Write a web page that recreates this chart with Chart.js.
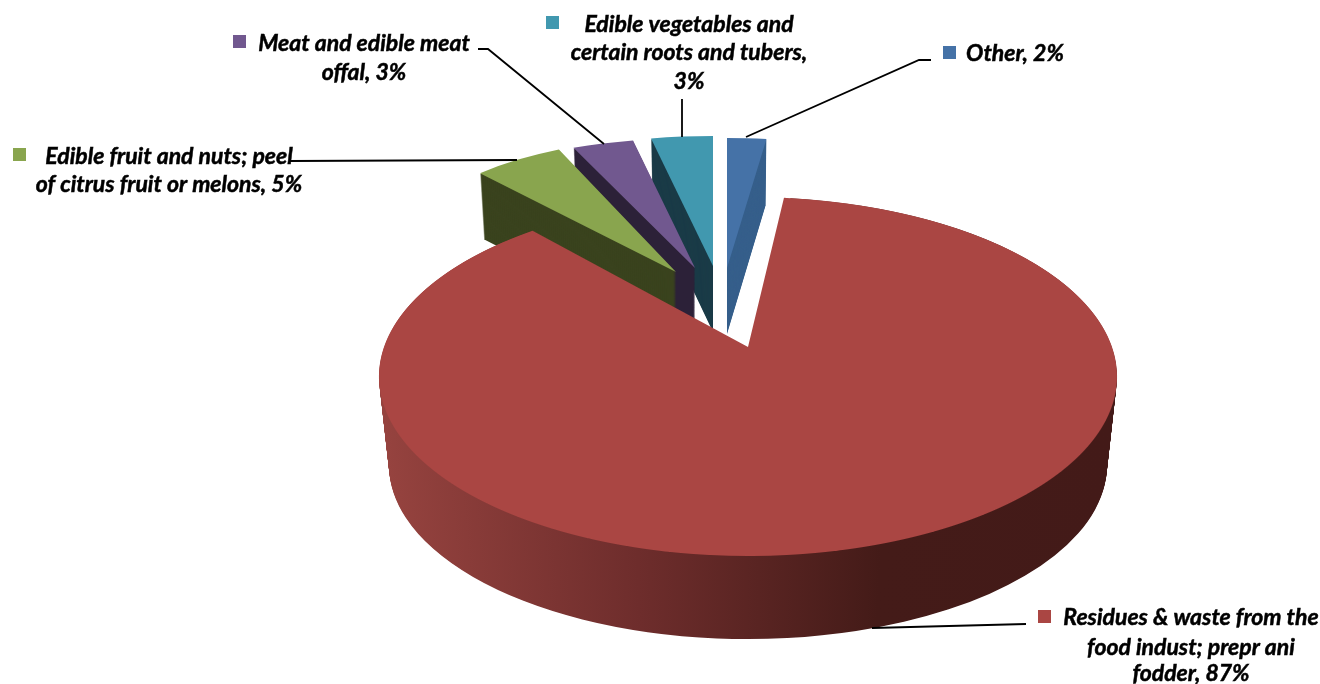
<!DOCTYPE html>
<html>
<head>
<meta charset="utf-8">
<title>Exports by product group</title>
<style>
  html, body { margin: 0; padding: 0; background: #fff; }
  canvas { display: block; }
</style>
<script src="https://cdn.jsdelivr.net/npm/chart.js@4"></script>
</head>
<body>
<canvas id="pie3d" width="1320" height="684"></canvas>
<script>
// Chart data (the labels show these rounded)
const categories = [
  'Residues & waste from the food indust; prepr ani fodder',
  'Edible fruit and nuts; peel of citrus fruit or melons',
  'Meat and edible meat offal',
  'Edible vegetables and certain roots and tubers',
  'Other'
];
const shares = [86.6, 5.2, 3.1, 3.1, 2.0];
const sliceColors = ['#AA4643', '#89A54E', '#71588F', '#4198AF', '#4572A7'];
const wallColors = ['#6e2d2c', '#3a431e', '#2c2138', '#1a3b47', '#365f8b'];

// Label text, one entry per line, same order as the categories
const labelLines = [
  ['Residues & waste from the', 'food indust; prepr ani', 'fodder, 87%'],
  ['Edible fruit and nuts; peel', 'of citrus fruit or melons, 5%'],
  ['Meat and edible meat', 'offal, 3%'],
  ['Edible vegetables and', 'certain roots and tubers,', '3%'],
  ['Other, 2%']
];

// Layout of the labels: centre x of the text, y of each line, legend square
const labelLayout = [
  { cx: 1191, ys: [618, 648, 674], key: [1038, 610] },
  { cx: 169, ys: [157, 185], key: [13, 148] },
  { cx: 364, ys: [44, 73], key: [233, 35] },
  { cx: 689, ys: [25, 53, 82], key: [546, 16] },
  { cx: 1015, ys: [54], key: [943, 46] }
];
const leaderLines = [
  [[872, 628], [1026, 624]],
  [[290, 161], [517, 160]],
  [[478, 49], [488, 49], [604, 144]],
  [[682, 99], [682, 137]],
  [[746, 137], [919, 60], [931, 60]]
];

// Pulled out slices: where the tip lands, ellipse radii, wall height, extra turn in degrees
const R = 369;
const mainRotation = 6.6;
const smallSlices = {
  1: { tip: [676, 272], rx: 290, ry: 134, depth: 66, turn: -1.5 },
  2: { tip: [695, 268], rx: 320, ry: 130, depth: 66, turn: 0 },
  3: { tip: [713, 266], rx: 320, ry: 130, depth: 66, turn: 0 },
  4: { tip: [727, 268], rx: 315, ry: 130, depth: 66, turn: 0 }
};
// the small slices line up with the vertical at 7.2 degrees, not at mainRotation
const smallTurn = 7.2 - mainRotation;

// The big slice is seen in perspective, so its tip is not the ellipse centre
const mainTip = [748, 347];
const backDy = 150, frontDy = 209;
const persB = -(frontDy - backDy) / (frontDy + backDy);
const persA = backDy * (1 - persB);
const persS = R * Math.sqrt(1 - persB * persB);

function drawWith(el, ctx, color) {
  const saved = el.options;
  if (color) el.options = Object.create(saved, { backgroundColor: { value: color } });
  el.draw(ctx);
  el.options = saved;
}

function drawSmallSlice(ctx, el, index) {
  const s = smallSlices[index];
  for (let h = s.depth; h >= 0; h--) {
    const k = 1 - 0.02 * h / s.depth;
    ctx.save();
    ctx.translate(s.tip[0], s.tip[1] + h);
    ctx.scale(s.rx * k / R, s.ry / R);
    ctx.rotate((smallTurn + s.turn) * Math.PI / 180);
    ctx.translate(-el.x, -el.y);
    drawWith(el, ctx, h > 0 ? wallColors[index] : null);
    ctx.restore();
  }
}

function drawMainSlice(ctx, el) {
  // side wall, stacked from the lower rim up
  const wall = ctx.createLinearGradient(el.x - R, 0, el.x + R, 0);
  wall.addColorStop(0, '#96433f');
  wall.addColorStop(0.35, '#6e2d2c');
  wall.addColorStop(0.68, '#441b18');
  wall.addColorStop(1, '#431a18');
  const depth = 90;
  for (let h = depth; h > 0; h--) {
    const t = h / depth;
    ctx.save();
    ctx.translate(748, 376 + h * 0.99);
    ctx.scale((369 - 10 * t) / R, (180 - 6 * t) / R);
    ctx.translate(-el.x, -el.y);
    drawWith(el, ctx, wall);
    ctx.restore();
  }
  // top face, one pixel row at a time so each row gets its perspective scale
  for (let y = mainTip[1] - backDy - 1; y < mainTip[1] + frontDy + 1; y++) {
    const dy = y + 0.5 - mainTip[1];
    const v = dy / (persA - persB * dy);
    if (Math.abs(v) >= 1) continue;
    const w = 1 + persB * v;
    const sx = persS / w / R;
    const sy = persA / (w * w) / R;
    ctx.save();
    ctx.beginPath();
    ctx.rect(0, y, 1320, 1);
    ctx.clip();
    ctx.translate(mainTip[0], y + 0.5);
    ctx.scale(sx, sy);
    ctx.translate(-el.x, -(el.y + v * R));
    drawWith(el, ctx, null);
    ctx.restore();
  }
}

const pie3dPlugin = {
  id: 'pie3d',
  beforeDatasetsDraw(chart) {
    const ctx = chart.ctx;
    const arcs = chart.getDatasetMeta(0).data;
    // back to front: Other, vegetables, meat, fruit, then the big slice
    [4, 3, 2, 1].forEach(i => drawSmallSlice(ctx, arcs[i], i));
    drawMainSlice(ctx, arcs[0]);
    return false;
  },
  afterDraw(chart) {
    const ctx = chart.ctx;
    ctx.save();
    ctx.strokeStyle = '#000';
    ctx.lineWidth = 1.8;
    leaderLines.forEach(pts => {
      ctx.beginPath();
      pts.forEach((p, i) => i ? ctx.lineTo(p[0], p[1]) : ctx.moveTo(p[0], p[1]));
      ctx.stroke();
    });
    ctx.fillStyle = '#000';
    ctx.lineWidth = 0.5;
    ctx.font = 'italic bold 23px Lato';
    ctx.textAlign = 'center';
    ctx.textBaseline = 'middle';
    labelLines.forEach((lines, i) => {
      const l = labelLayout[i];
      lines.forEach((txt, j) => {
        ctx.fillText(txt, l.cx, l.ys[j]);
        ctx.strokeText(txt, l.cx, l.ys[j]); // reference text is a bit heavier
      });
    });
    labelLayout.forEach((l, i) => {
      ctx.fillStyle = sliceColors[i];
      ctx.fillRect(l.key[0], l.key[1], 13, 13);
    });
    ctx.restore();
  }
};

new Chart(document.getElementById('pie3d').getContext('2d'), {
  type: 'pie',
  data: {
    labels: categories,
    datasets: [{
      data: shares,
      backgroundColor: sliceColors,
      borderWidth: 0
    }]
  },
  options: {
    responsive: false,
    animation: false,
    devicePixelRatio: 1,
    rotation: mainRotation,
    radius: R,
    events: [],
    plugins: {
      legend: { display: false },
      tooltip: { enabled: false }
    }
  },
  plugins: [pie3dPlugin]
});
</script>
</body>
</html>
